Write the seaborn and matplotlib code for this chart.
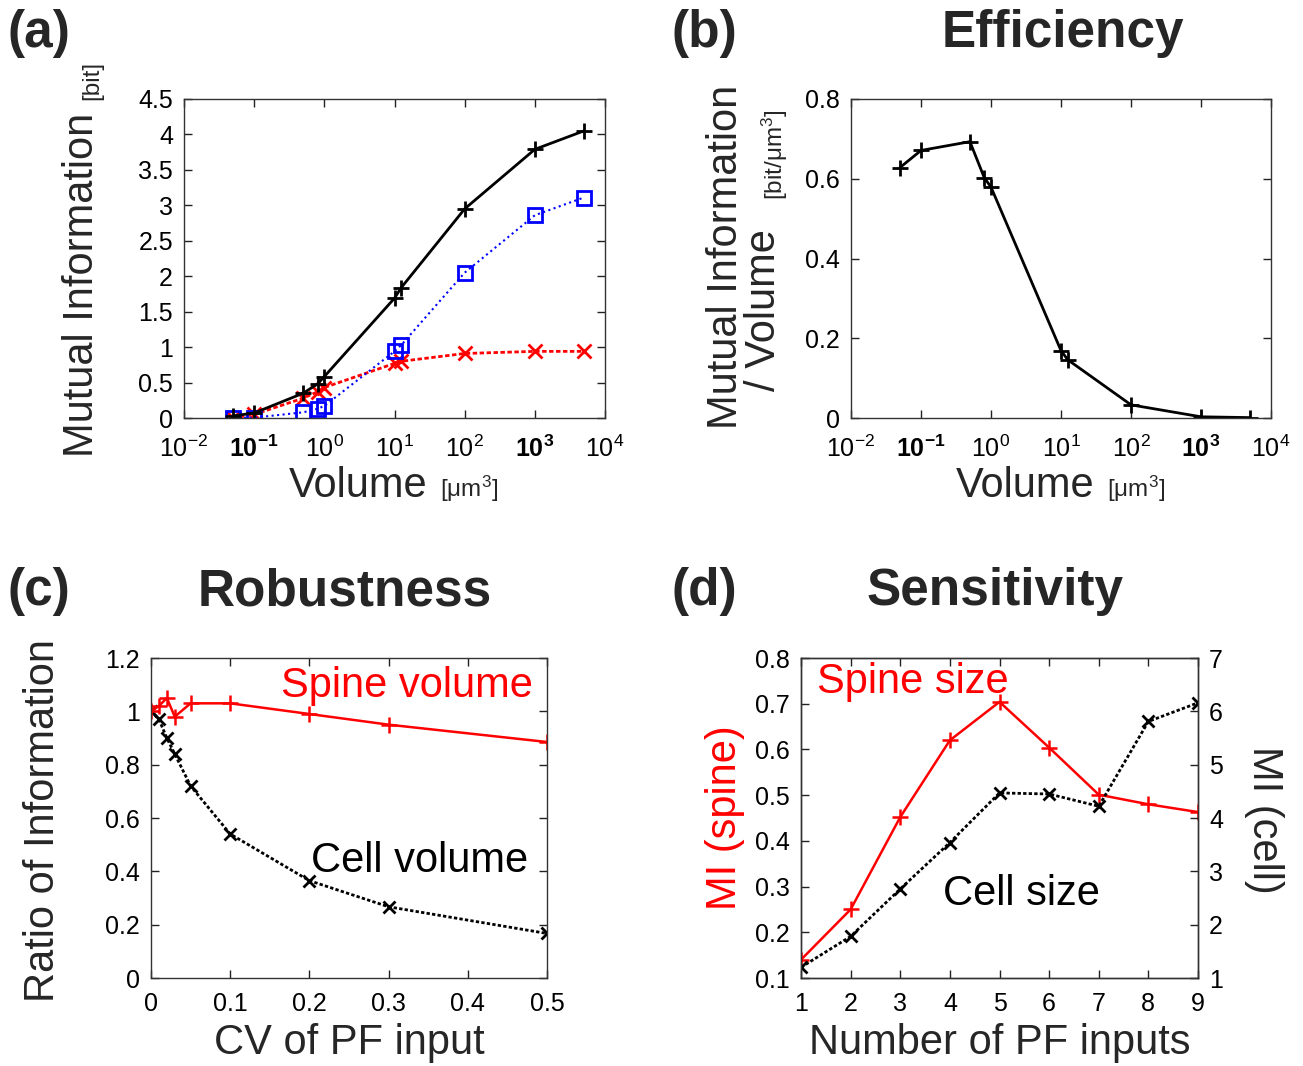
import numpy as np
import pandas as pd
import matplotlib
matplotlib.use("Agg")
import matplotlib.pyplot as plt
import seaborn as sns
from matplotlib.ticker import FixedLocator, FixedFormatter, NullLocator

# ---------------- data ----------------
volume = [0.05, 0.1, 0.5, 0.8, 1.0, 10, 12.5, 100, 1000, 5000]
mi_total = [0.03, 0.07, 0.35, 0.48, 0.585, 1.69, 1.84, 2.95, 3.79, 4.05]
mi_blue = [0.0, 0.005, 0.08, 0.13, 0.17, 0.94, 1.03, 2.05, 2.86, 3.11]
mi_red = [0.0, 0.05, 0.28, 0.37, 0.43, 0.77, 0.80, 0.91, 0.94, 0.94]
efficiency = [0.628, 0.671, 0.693, 0.603, 0.579, 0.169, 0.146, 0.033, 0.003, 0.001]

cv = [0, 0.01, 0.02, 0.03, 0.05, 0.1, 0.2, 0.3, 0.5]
ratio_spine = [1.0, 1.02, 1.05, 0.98, 1.03, 1.03, 0.99, 0.95, 0.885]
ratio_cell = [1.0, 0.97, 0.90, 0.84, 0.72, 0.54, 0.365, 0.267, 0.167]

n_inputs = [1, 2, 3, 4, 5, 6, 7, 8, 9]
mi_spine = [0.14, 0.25, 0.452, 0.62, 0.704, 0.604, 0.501, 0.48, 0.463]
mi_cell = [1.20, 1.78, 2.67, 3.54, 4.47, 4.45, 4.22, 5.81, 6.16]

log_ticks = [1e-2, 1e-1, 1e0, 1e1, 1e2, 1e3, 1e4]
log_tick_labels = [r"$10^{-2}$", r"$\mathbf{10^{-1}}$", r"$10^{0}$", r"$10^{1}$",
                   r"$10^{2}$", r"$\mathbf{10^{3}}$", r"$10^{4}$"]
a_yticks = [0, 0.5, 1, 1.5, 2, 2.5, 3, 3.5, 4, 4.5]
a_yticklabels = ["0", "0.5", "1", "1.5", "2", "2.5", "3", "3.5", "4", "4.5"]
b_yticks = [0, 0.2, 0.4, 0.6, 0.8]
b_yticklabels = ["0", "0.2", "0.4", "0.6", "0.8"]
c_xticks = [0, 0.1, 0.2, 0.3, 0.4, 0.5]
c_xticklabels = ["0", "0.1", "0.2", "0.3", "0.4", "0.5"]
c_yticks = [0, 0.2, 0.4, 0.6, 0.8, 1.0, 1.2]
c_yticklabels = ["0", "0.2", "0.4", "0.6", "0.8", "1", "1.2"]
d_yticks = [0.1, 0.2, 0.3, 0.4, 0.5, 0.6, 0.7, 0.8]
d_yticklabels = ["0.1", "0.2", "0.3", "0.4", "0.5", "0.6", "0.7", "0.8"]
d_y2ticks = [1, 2, 3, 4, 5, 6, 7]
d_y2ticklabels = ["1", "2", "3", "4", "5", "6", "7"]

# ---------------- style ----------------
sns.set_theme(style="ticks")
plt.rcParams["font.family"] = ["Liberation Sans", "DejaVu Sans"]
plt.rcParams["mathtext.fontset"] = "custom"
plt.rcParams["mathtext.rm"] = "Liberation Sans"
plt.rcParams["mathtext.bf"] = "Liberation Sans:bold"
plt.rcParams["mathtext.it"] = "Liberation Sans:italic"
plt.rcParams["mathtext.sf"] = "Liberation Sans"
plt.rcParams["axes.unicode_minus"] = True

W, H = 1303, 1066
fig = plt.figure(figsize=(W / 100, H / 100), dpi=100)
fig.patch.set_facecolor("white")

TICK = 18
LAB = 30
SMALL = 17.5
BIG = 37


def axes_px(left, top, right, bottom):
    return fig.add_axes([left / W, 1 - bottom / H, (right - left) / W, (bottom - top) / H])


def ftext(x, y, s, **kw):
    return fig.text(x / W, 1 - y / H, s, **kw)


def style_axes(ax, right=True, xpad=8):
    for sp in ax.spines.values():
        sp.set_color("#333333")
        sp.set_linewidth(1.0)
    ax.tick_params(direction="in", top=True, right=right, length=6, width=1,
                   labelsize=TICK, pad=8, colors="#222222", labelcolor="black")
    ax.tick_params(axis="x", pad=xpad)


ax_a = axes_px(184, 99, 605, 418)
ax_b = axes_px(851, 99, 1271, 418)
ax_c = axes_px(151, 658, 547, 978)
ax_d = axes_px(801, 658, 1198, 978)

# ---------------- (a) ----------------
ax_a.set_xscale("log")
sns.lineplot(x=volume, y=mi_red, ax=ax_a, color="red", lw=2, linestyle=(0, (1.6, 0.9)),
             marker="x", markersize=10, markeredgewidth=2, markeredgecolor="red")
sns.lineplot(x=volume, y=mi_blue, ax=ax_a, color="blue", lw=1.5, linestyle=":",
             marker="s", markersize=10, markeredgewidth=2, markeredgecolor="blue",
             markerfacecolor="none")
sns.lineplot(x=volume, y=mi_total, ax=ax_a, color="black", lw=2, linestyle="-",
             marker="+", markersize=11, markeredgewidth=2, markeredgecolor="black")
ax_a.set_xlim(1e-2, 1e4)
ax_a.set_ylim(0, 4.5)
ax_a.xaxis.set_major_locator(FixedLocator(log_ticks))
ax_a.xaxis.set_major_formatter(FixedFormatter(log_tick_labels))
ax_a.xaxis.set_minor_locator(NullLocator())
ax_a.yaxis.set_major_locator(FixedLocator(a_yticks))
ax_a.yaxis.set_major_formatter(FixedFormatter(a_yticklabels))
style_axes(ax_a, xpad=13)

# ---------------- (b) ----------------
ax_b.set_xscale("log")
sns.lineplot(x=volume, y=efficiency, ax=ax_b, color="black", lw=2, linestyle="-",
             marker="+", markersize=11, markeredgewidth=2, markeredgecolor="black")
ax_b.set_xlim(1e-2, 1e4)
ax_b.set_ylim(0, 0.8)
ax_b.xaxis.set_major_locator(FixedLocator(log_ticks))
ax_b.xaxis.set_major_formatter(FixedFormatter(log_tick_labels))
ax_b.xaxis.set_minor_locator(NullLocator())
ax_b.yaxis.set_major_locator(FixedLocator(b_yticks))
ax_b.yaxis.set_major_formatter(FixedFormatter(b_yticklabels))
style_axes(ax_b, xpad=13)

# ---------------- (c) ----------------
sns.lineplot(x=cv, y=ratio_cell, ax=ax_c, color="black", lw=2, linestyle=(0, (1.2, 0.8)),
             marker="x", markersize=9, markeredgewidth=2, markeredgecolor="black")
sns.lineplot(x=cv, y=ratio_spine, ax=ax_c, color="red", lw=1.8, linestyle="-",
             marker="+", markersize=11, markeredgewidth=1.8, markeredgecolor="red")
ax_c.set_xlim(0, 0.5)
ax_c.set_ylim(0, 1.2)
ax_c.xaxis.set_major_locator(FixedLocator(c_xticks))
ax_c.xaxis.set_major_formatter(FixedFormatter(c_xticklabels))
ax_c.yaxis.set_major_locator(FixedLocator(c_yticks))
ax_c.yaxis.set_major_formatter(FixedFormatter(c_yticklabels))
style_axes(ax_c, xpad=10)
ax_c.text(0.482, 1.055, "Spine volume", color="red", fontsize=LAB, ha="right", va="baseline")
ax_c.text(0.476, 0.399, "Cell volume", color="black", fontsize=LAB, ha="right", va="baseline")

# ---------------- (d) ----------------
sns.lineplot(x=n_inputs, y=mi_spine, ax=ax_d, color="red", lw=1.8, linestyle="-",
             marker="+", markersize=11, markeredgewidth=1.8, markeredgecolor="red", zorder=3)
ax_d.set_xlim(1, 9)
ax_d.set_ylim(0.1, 0.8)
ax_d.xaxis.set_major_locator(FixedLocator(n_inputs))
ax_d.xaxis.set_major_formatter(FixedFormatter([str(n) for n in n_inputs]))
ax_d.yaxis.set_major_locator(FixedLocator(d_yticks))
ax_d.yaxis.set_major_formatter(FixedFormatter(d_yticklabels))
style_axes(ax_d, right=False, xpad=10)
ax_d2 = ax_d.twinx()
sns.lineplot(x=n_inputs, y=mi_cell, ax=ax_d2, color="black", lw=2, linestyle=(0, (1.2, 0.8)),
             marker="x", markersize=9, markeredgewidth=2, markeredgecolor="black")
ax_d2.set_ylim(1, 7)
ax_d2.yaxis.set_major_locator(FixedLocator(d_y2ticks))
ax_d2.yaxis.set_major_formatter(FixedFormatter(d_y2ticklabels))
for sp in ax_d2.spines.values():
    sp.set_color("#333333")
    sp.set_linewidth(1.0)
ax_d2.tick_params(axis="y", direction="in", right=True, left=False, length=6, width=1,
                  labelsize=TICK, pad=8, colors="#222222", labelcolor="black")
ax_d2.set_ylabel("")
ax_d2.grid(False)
ax_d.text(1.32, 0.723, "Spine size", color="red", fontsize=LAB, ha="left", va="baseline")
ax_d.text(3.86, 0.26, "Cell size", color="black", fontsize=LAB, ha="left", va="baseline")

for ax in (ax_a, ax_b, ax_c, ax_d):
    ax.set_xlabel("")
    ax.set_ylabel("")

# ---------------- labels ----------------
# (a)
ftext(82, 285, "Mutual Information", fontsize=LAB, rotation=90, ha="center", va="center")
ftext(92, 80, "[bit]", fontsize=SMALL, rotation=90, ha="center", va="center")
ftext(358, 497, "Volume", fontsize=LAB, ha="center", va="baseline")
ftext(440, 497, r"[μm$^3$]", fontsize=SMALL, ha="left", va="baseline")
# (b)
ftext(726, 257, "Mutual Information", fontsize=LAB, rotation=90, ha="center", va="center")
ftext(764, 310, "/ Volume", fontsize=LAB, rotation=90, ha="center", va="center")
ftext(775, 155, r"[bit/μm$^3$]", fontsize=SMALL, rotation=90, ha="center", va="center")
ftext(1025, 497, "Volume", fontsize=LAB, ha="center", va="baseline")
ftext(1107, 497, r"[μm$^3$]", fontsize=SMALL, ha="left", va="baseline")
# (c)
ftext(43, 821, "Ratio of Information", fontsize=LAB, rotation=90, ha="center", va="center")
ftext(349, 1054, "CV of PF input", fontsize=LAB, ha="center", va="baseline")
# (d)
ftext(725, 818, "MI (spine)", fontsize=LAB, rotation=90, ha="center", va="center", color="red")
ftext(1264, 820, "MI (cell)", fontsize=LAB, rotation=-90, ha="center", va="center")
ftext(1000, 1054, "Number of PF inputs", fontsize=LAB, ha="center", va="baseline")

# panel letters and titles
ftext(8, 34, "(a)", fontsize=BIG, fontweight="bold", ha="left", va="center")
ftext(672, 34, "(b)", fontsize=BIG, fontweight="bold", ha="left", va="center")
ftext(8, 592, "(c)", fontsize=BIG, fontweight="bold", ha="left", va="center")
ftext(672, 592, "(d)", fontsize=BIG, fontweight="bold", ha="left", va="center")
ftext(1063, 34, "Efficiency", fontsize=BIG, fontweight="bold", ha="center", va="center")
ftext(345, 592, "Robustness", fontsize=BIG, fontweight="bold", ha="center", va="center")
ftext(995, 592, "Sensitivity", fontsize=BIG, fontweight="bold", ha="center", va="center")

fig.savefig("out.png", dpi=100, facecolor="white")
